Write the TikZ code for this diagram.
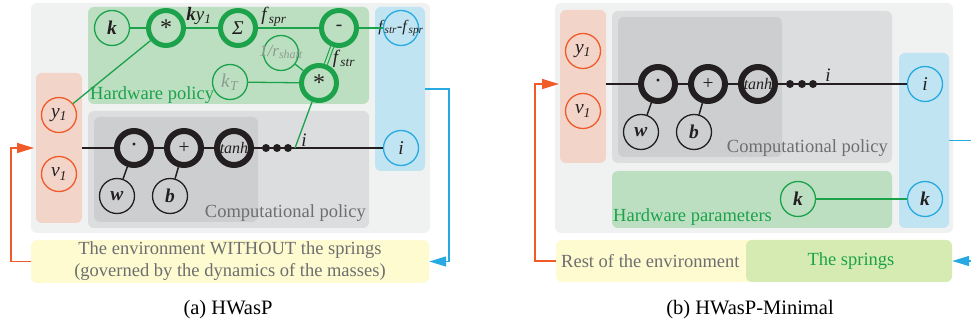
\documentclass[tikz,border=0pt]{standalone}
\usepackage{fontspec}
\setmainfont{Liberation Serif}
\usetikzlibrary{arrows.meta}
\definecolor{cOuter}{HTML}{F0F1F1}
\definecolor{cHw}{HTML}{BCDFC1}
\definecolor{cSal}{HTML}{F2D4C9}
\definecolor{cComp}{HTML}{DCDDDF}
\definecolor{cDark}{HTML}{CDCED0}
\definecolor{cBlueBox}{HTML}{C0E4F1}
\definecolor{cYel}{HTML}{FEFBD0}
\definecolor{cSpr}{HTML}{D6EBB2}
\definecolor{cGreen}{HTML}{1BA24A}
\definecolor{cOrange}{HTML}{F15A29}
\definecolor{cBlue}{HTML}{27AAE1}
\definecolor{cInk}{HTML}{231F20}
\definecolor{cGrayT}{HTML}{6D6E70}
\definecolor{cDim}{HTML}{8D9B90}
\newcommand\zb[1]{\makebox[0pt]{#1}}
\newcommand\itx[1]{\textit{#1}}
\newcommand\myast{\raisebox{-0.35ex}{\fontsize{24}{24}\selectfont *}}
\begin{document}
\begin{tikzpicture}[x=1pt,y=-1pt,
  box/.style={rounded corners=6pt, inner sep=0pt, draw=none},
  circ/.style={circle, inner sep=0pt, minimum size=35pt, font=\fontsize{19.5}{19.5}\selectfont, text=cInk},
  thin g/.style={circ, draw=cGreen, line width=1.3pt},
  thick g/.style={circ, draw=cGreen, line width=5pt},
  thick k/.style={circ, draw=cInk, line width=6pt, minimum size=34pt},
  thin k/.style={circ, draw=cInk, line width=1.3pt},
  orc/.style={circ, draw=cOrange, line width=1.3pt},
  blc/.style={circ, draw=cBlue, line width=1.3pt},
  bdot/.style={circle, fill=cInk, inner sep=0pt, minimum size=8pt},
  gline/.style={draw=cGreen, line width=1.3pt},
  kline/.style={draw=cInk, line width=1.5pt},
  oline/.style={draw=cOrange, line width=1.5pt, -{Triangle[length=17pt,width=10pt]}},
  bline/.style={draw=cBlue, line width=1.5pt, -{Triangle[length=17pt,width=10pt]}},
  big/.style={font=\fontsize{18.5}{22}\selectfont, inner sep=0pt},
  lab/.style={font=\fontsize{19}{19}\selectfont, inner sep=0pt, text=cInk},
]
\useasboundingbox (0,0) rectangle (971,328);

% ---------------- panel (a) ----------------
\node[box, fill=cOuter, minimum width=399, minimum height=230] (outA) at (230.5,118) {};
\node[box, fill=cHw, minimum width=281, minimum height=97] (hwA) at (228.5,55.5) {};
\node[box, fill=cSal, minimum width=46, minimum height=150] (salA) at (59,148) {};
\node[box, fill=cComp, minimum width=281, minimum height=117] (compA) at (228.5,169.5) {};
\node[box, fill=cDark, minimum width=164, minimum height=105] (darkA) at (176,169.5) {};
\node[box, fill=cBlueBox, minimum width=50, minimum height=164] (blueA) at (400,89) {};
\node[box, fill=cYel, minimum width=398, minimum height=43] (envA) at (230,261.5) {};

\node[big, text=cGreen, anchor=base west] (hwtA) at (90,100) {Hardware policy};
\node[big, text=cGrayT, anchor=base east] (cptA) at (366,218) {Computational policy};
\node[big, text=cGrayT, align=center] (envtA) at (envA) {The environment WITHOUT the springs\\(governed by the dynamics of the masses)};

\node[thin g] (kA) at (112,28) {\zb{\textbf{\textit{k}}}};
\node[thick g] (m1A) at (166,28) {\zb{\myast}};
\node[thick g] (sA) at (238,28) {\zb{\itx{Σ}}};
\node[thick g] (dA) at (339,28) {\zb{-}};
\node[blc] (fA) at (401,28) {\zb{\fontsize{16}{16}\selectfont\itx{f}\textsubscript{\itx{str}}-\itx{f}\textsubscript{\itx{spr}}}};
\node[thin g] (rA) at (281,53) {\zb{\fontsize{17}{17}\selectfont\textcolor{cDim}{\itx{1/r}\textsubscript{\itx{shaft}}}}};
\node[thin g] (kTA) at (230,82) {\zb{\textcolor{cDim}{\itx{k}\textsubscript{\itx{T}}}}};
\node[thick g] (m2A) at (319,83) {\zb{\myast}};
\node[orc] (y1A) at (59,115) {\zb{\itx{y}\textsubscript{\itx{1}}}};
\node[orc] (v1A) at (59,174) {\zb{\itx{v}\textsubscript{\itx{1}}}};
\node[thick k] (dotA) at (134,148) {\zb{\fontsize{24}{24}\selectfont ·}};
\node[thick k] (plusA) at (184,148) {\zb{+}};
\node[thick k] (tanhA) at (234,148) {\zb{\fontsize{16}{16}\selectfont\itx{tanh}}};
\node[thin k] (wA) at (117,196) {\zb{\textbf{\textit{w}}}};
\node[thin k] (bA) at (170,196) {\zb{\textbf{\textit{b}}}};
\node[blc] (iA) at (401,148) {\zb{\itx{i}}};
\coordinate (jA) at (295,148);
\coordinate (inA) at (34,148);

\draw[kline] (salA.east |- dotA) -- (dotA);
\draw[kline] (dotA) -- (plusA);
\draw[kline] (plusA) -- (tanhA);
\draw[kline] (tanhA) -- (iA);
\draw[kline] (wA) -- (dotA);
\draw[kline] (bA) -- (plusA);
\node[bdot] (e1A) at (266,148) {};
\node[bdot] (e2A) at (277,148) {};
\node[bdot] (e3A) at (288,148) {};

\draw[gline] (kA) -- (m1A);
\draw[gline] (m1A) -- (sA);
\draw[gline] (sA) -- (dA);
\draw[gline] (dA) -- (fA);
\draw[gline] (y1A) -- (m1A);
\draw[gline] (kTA) -- (m2A);
\draw[gline] (rA) -- (m2A);
\draw[draw=cGreen, line width=1.1pt, double=cHw, double distance=2pt] (dA) -- (m2A);
\draw[gline] (m2A) -- (jA);

\node[lab] (kyA) at (199,16) {\textbf{\textit{k}}\itx{y}\textsubscript{\itx{1}}};
\node[lab] (fsprA) at (274,17) {\itx{f}\textsubscript{\itx{spr}}};
\node[lab] (fstrA) at (344,59) {\itx{f}\textsubscript{\itx{str}}};
\node[lab] (ilA) at (304,140) {\itx{i}};

\draw[oline] (envA.west) -- ++(-20,0) |- (inA);
\draw[bline] (blueA.east) -- ++(24,0) |- (envA.east);

\node[font=\fontsize{20.5}{20.5}\selectfont, inner sep=0pt] (capA) at (228,310) {(a) HWasP};

% ---------------- panel (b) ----------------
\node[box, fill=cOuter, minimum width=398, minimum height=230] (outB) at (754,118) {};
\node[box, fill=cSal, minimum width=46, minimum height=153] (salB) at (583,86.5) {};
\node[box, fill=cComp, minimum width=280, minimum height=152] (compB) at (752,87) {};
\node[box, fill=cDark, minimum width=164, minimum height=140] (darkB) at (700,87) {};
\node[box, fill=cHw, minimum width=280, minimum height=57] (hwB) at (752,199.5) {};
\node[box, fill=cBlueBox, minimum width=50, minimum height=175] (blueB) at (924,140.5) {};
\node[box, fill=cYel, minimum width=396, minimum height=42] (envB) at (754,261) {};
\node[box, fill=cSpr, minimum width=206, minimum height=42] (sprB) at (849,261) {};

\node[big, text=cGrayT, anchor=base east] (cptB) at (888,153) {Computational policy};
\node[big, text=cGreen, anchor=base west] (hwtB) at (613,222) {Hardware parameters};
\node[big, text=cGrayT, anchor=west] (restB) at (561,261) {Rest of the environment};
\node[big, text=cGreen] (sprtB) at (851,261) {The springs};

\node[orc] (y1B) at (583,51) {\zb{\itx{y}\textsubscript{\itx{1}}}};
\node[orc] (v1B) at (583,111) {\zb{\itx{v}\textsubscript{\itx{1}}}};
\node[thick k] (dotB) at (658,84) {\zb{\fontsize{24}{24}\selectfont ·}};
\node[thick k] (plusB) at (708,84) {\zb{+}};
\node[thick k] (tanhB) at (758,84) {\zb{\fontsize{16}{16}\selectfont\itx{tanh}}};
\node[thin k] (wB) at (641,132) {\zb{\textbf{\textit{w}}}};
\node[thin k] (bB) at (694,132) {\zb{\textbf{\textit{b}}}};
\node[blc] (iB) at (925,84) {\zb{\itx{i}}};
\node[thin g] (kB) at (798,199) {\zb{\textbf{\textit{k}}}};
\node[blc] (k2B) at (925,199) {\zb{\textbf{\textit{k}}}};
\coordinate (inB) at (559,84);

\draw[kline] (salB.east |- dotB) -- (dotB);
\draw[kline] (dotB) -- (plusB);
\draw[kline] (plusB) -- (tanhB);
\draw[kline] (tanhB) -- (iB);
\draw[kline] (wB) -- (dotB);
\draw[kline] (bB) -- (plusB);
\node[bdot] (e1B) at (790,84) {};
\node[bdot] (e2B) at (802,84) {};
\node[bdot] (e3B) at (813,84) {};
\node[lab] (ilB) at (828,75) {\itx{i}};
\draw[gline] (kB) -- (k2B);

\draw[oline] (envB.west) -- ++(-21,0) |- (inB);
\draw[bline] (blueB.east) -- ++(30,0) |- (envB.east);

\node[font=\fontsize{20.5}{20.5}\selectfont, inner sep=0pt] (capB) at (750,310) {(b) HWasP-Minimal};
\end{tikzpicture}
\end{document}
